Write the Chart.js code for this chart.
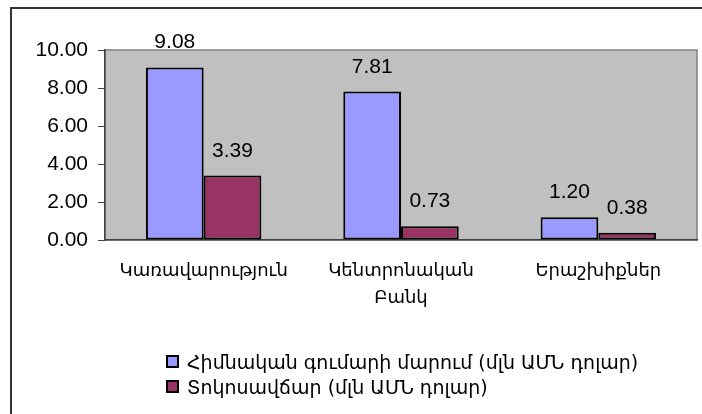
<!DOCTYPE html>
<html>
<head>
<meta charset="utf-8">
<script src="https://cdn.jsdelivr.net/npm/chart.js@4/dist/chart.umd.min.js"></script>
<style>
    html, body { margin: 0; padding: 0; background: #fff; }
    #wrap { position: relative; width: 702px; height: 414px; overflow: hidden; }
    #frame { position: absolute; left: 10px; top: 7px; width: 720px; height: 440px; border: 2px solid #333; box-sizing: border-box; }
    #chart { position: absolute; left: 0; top: 0; }
    #legend { position: absolute; left: 166px; top: 349px; font-family: "DejaVu Sans", sans-serif; font-size: 19px; color: #000; }
    .item { display: flex; align-items: center; height: 25px; }
    .box { width: 9px; height: 9px; border: 2px solid #000; margin-right: 8px; }
</style>
</head>
<body>
<div id="wrap">
    <div id="frame"></div>
    <canvas id="chart" width="702" height="414"></canvas>
    <div id="legend"></div>
</div>
<script>
const categories = ["Կառավարություն", ["Կենտրոնական", "Բանկ"], "Երաշխիքներ"];
const seriesNames = ["Հիմնական գումարի մարում (մլն ԱՄՆ դոլար)", "Տոկոսավճար (մլն ԱՄՆ դոլար)"];
const principal = [9.08, 7.81, 1.20];
const interest = [3.39, 0.73, 0.38];
const seriesColors = ["#9999FF", "#993366"];

const plotBackground = {
    id: 'plotBackground',
    beforeDraw(chart) {
        const a = chart.chartArea;
        const ctx = chart.ctx;
        ctx.save();
        ctx.fillStyle = '#C0C0C0';
        ctx.fillRect(a.left, a.top, a.right - a.left, a.bottom - a.top);
        ctx.strokeStyle = '#808080';
        ctx.lineWidth = 1.5;
        ctx.strokeRect(a.left, a.top, a.right - a.left, a.bottom - a.top);
        ctx.restore();
    }
};

const valueLabels = {
    id: 'valueLabels',
    afterDatasetsDraw(chart) {
        const ctx = chart.ctx;
        ctx.save();
        ctx.font = '21px "Liberation Sans", Arial, sans-serif';
        ctx.fillStyle = '#000';
        ctx.textAlign = 'center';
        ctx.textBaseline = 'alphabetic';
        chart.data.datasets.forEach((ds, i) => {
            chart.getDatasetMeta(i).data.forEach((bar, j) => {
                ctx.fillText(ds.data[j].toFixed(2), bar.x, bar.y - 19);
            });
        });
        ctx.restore();
    }
};

const ctx = document.getElementById('chart').getContext('2d');
new Chart(ctx, {
    type: 'bar',
    plugins: [plotBackground, valueLabels],
    data: {
        labels: categories,
        datasets: [
            { label: seriesNames[0], data: principal, backgroundColor: seriesColors[0], borderColor: '#000', borderWidth: 2, borderSkipped: false },
            { label: seriesNames[1], data: interest, backgroundColor: seriesColors[1], borderColor: '#000', borderWidth: 2, borderSkipped: false }
        ]
    },
    options: {
        responsive: false,
        animation: false,
        layout: { padding: { top: 50, right: 5, left: 0, bottom: 0 } },
        datasets: { bar: { barPercentage: 1, categoryPercentage: 0.585 } },
        scales: {
            y: {
                min: 0,
                max: 10,
                afterFit(scale) { scale.width = 105; },
                ticks: {
                    stepSize: 2,
                    padding: 10,
                    color: '#000',
                    font: { family: '"Liberation Sans", Arial, sans-serif', size: 21 },
                    callback(v) { return v.toFixed(2); }
                },
                grid: { drawOnChartArea: false, drawTicks: true, tickLength: 7, color: '#404040' },
                border: { color: '#404040', width: 1.5 }
            },
            x: {
                afterFit(scale) { scale.height = 174; },
                ticks: {
                    padding: 10,
                    color: '#000',
                    maxRotation: 0,
                    autoSkip: false,
                    font: { family: '"DejaVu Sans", sans-serif', size: 18, lineHeight: '27px' }
                },
                grid: { display: false },
                border: { color: '#404040', width: 1.5 }
            }
        },
        plugins: {
            legend: { display: false },
            tooltip: { enabled: false }
        }
    }
});

// legend built from the series arrays
const legend = document.getElementById('legend');
seriesNames.forEach((name, i) => {
    const row = document.createElement('div');
    row.className = 'item';
    row.innerHTML = `<span class="box" style="background:${seriesColors[i]}"></span><span>${name}</span>`;
    legend.appendChild(row);
});
</script>
</body>
</html>
